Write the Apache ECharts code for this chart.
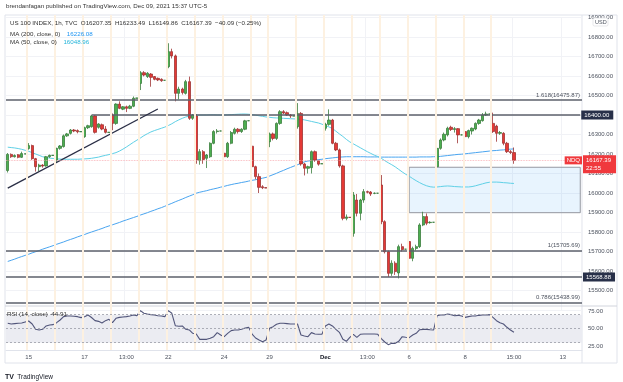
<!DOCTYPE html>
<html><head><meta charset="utf-8">
<script src="https://cdn.jsdelivr.net/npm/echarts@6/dist/echarts.min.js"></script>
<style>html,body{margin:0;padding:0;background:#fff;}#c{width:623px;height:382px;}</style>
</head><body><div id="c"></div>
<script>
// ---- OHLC (hourly bars, Nov 12 11:00 .. Dec 9 15:00) ----
const opens = [16115,16198,16186,16196,16183,16200,
16228,16243,16176,16135,16143,16139,16186,16193,
16169,16229,16238,16293,16306,16323,16320,16314,
16289,16335,16340,16395,16337,16350,16328,16311,
16400,16357,16456,16430,16442,16434,16445,16486,
16562,16617,16597,16610,16597,16588,16583,16578,
16648,16725,16703,16511,16533,16511,16571,16383,
16395,16166,16212,16178,16186,16255,16315,16318,
16204,16186,16255,16306,16327,16315,16327,16370,
16240,16135,16084,16032,16027,
16263,16303,16280,16357,16417,16412,16400,16395,
16340,16408,16149,16127,16130,16212,16165,16150,
16332,16352,16374,16255,16221,16139,15870,15875,
15793,15964,15896,15964,16007,16005,15998,15999,
16041,15853,15699,15588,15640,15590,15725,15712,
15751,15665,15716,15725,15836,15879,15848,15850,
16135,16229,16272,16298,16337,16326,16330,16298,
16315,16289,16318,16328,16357,16371,16400,16405,
16357,16343,16306,16306,16255,16212,16207.35];
const highs = [16205,16203,16198,16200,16212,16202,
16256,16248,16180,16150,16148,16190,16197,16195,
16232,16246,16300,16308,16328,16328,16326,16316,
16340,16350,16400,16400,16358,16356,16343,16313,
16408,16460,16470,16446,16448,16452,16495,16488,
16625,16625,16620,16615,16600,16592,16588,16579,
16768,16740,16710,16545,16540,16580,16597,16405,
16405,16225,16220,16200,16260,16322,16328,16319,
16215,16262,16318,16335,16333,16332,16375,16372,
16303,16140,16100,16040,16028,
16310,16310,16362,16425,16425,16418,16405,16396,
16461,16415,16155,16140,16218,16218,16170,16151,
16360,16429,16380,16262,16228,16145,15890,15876,
16005,15995,15970,16020,16012,16010,16003,16000,
16092,15860,15705,15655,15650,15735,15740,15713,
15760,15725,15735,15845,15904,15895,15855,15851,
16235,16280,16310,16340,16345,16338,16333,16300,
16322,16325,16336,16362,16380,16410,16417,16406,
16412,16350,16318,16312,16262,16220,16233.49];
const lows = [16105,16180,16182,16178,16180,16199,
16222,16170,16110,16112,16130,16135,16180,16191,
16160,16222,16233,16288,16300,16312,16306,16313,
16283,16328,16335,16305,16330,16322,16305,16310,
16322,16350,16430,16425,16415,16430,16440,16485,
16528,16598,16590,16545,16578,16574,16570,16577,
16640,16690,16470,16480,16505,16505,16375,16375,
16150,16145,16150,16128,16180,16250,16305,16317,
16150,16180,16250,16300,16305,16308,16322,16369,
16120,16070,16000,16020,16025,
16235,16270,16272,16350,16405,16395,16385,16394,
16330,16140,16090,16100,16100,16160,16140,16149,
16320,16345,16250,16215,16130,15860,15860,15874,
15776,15880,15860,15950,15998,15985,15994,15998,
15840,15690,15570,15575,15580,15562,15700,15711,
15614,15650,15705,15718,15830,15835,15843,15849,
16125,16222,16265,16290,16318,16310,16255,16296,
16255,16280,16300,16322,16350,16366,16395,16404,
16308,16263,16298,16245,16205,16200,16149.86];
const closes = [16198,16186,16192,16183,16202,16201,
16243,16176,16135,16143,16138,16186,16193,16193,
16229,16241,16293,16303,16323,16318,16314,16315,
16335,16345,16395,16311,16354,16328,16311,16311,
16357,16456,16434,16442,16434,16445,16486,16487,
16617,16605,16614,16593,16583,16580,16576,16578,
16725,16703,16511,16533,16515,16571,16383,16400,
16169,16212,16172,16195,16255,16315,16318,16318,
16186,16255,16310,16327,16315,16327,16370,16371,
16135,16084,16029,16027,16026,
16303,16280,16357,16417,16410,16400,16395,16395,
16408,16149,16127,16135,16212,16169,16148,16150,
16352,16374,16255,16221,16139,15870,15877,15875,
15990,15896,15964,16007,16004,15995,15999,15999,
15853,15699,15588,15640,15597,15725,15710,15712,
15665,15716,15725,15836,15879,15845,15850,15850,
16229,16272,16301,16332,16326,16330,16298,16298,
16289,16320,16332,16357,16374,16400,16405,16405,
16315,16306,16310,16255,16212,16207.48,16167.39];

// ---- Moving averages & RSI ----
const ma200 = [15649,15655,15661,15668,15674,15680,15686,15693,15699,15705,15712,15718,15724,15730,15737,15743,15749,15756,15762,15768,15775,15781,15787,15794,15800,15806,15812,15818,
15825,15831,15837,15843,15849,15856,15862,15868,15874,15880,
15887,15893,15899,15906,15912,15919,15925,15932,
15940,15947,15955,15962,15969,15977,15984,15991,15999,
16004,16008,16012,16017,16021,16025,16030,16034,16039,
16043,16047,16050,16054,16057,16061,16065,16068,16072,16076,
16080,16087,16094,16101,16109,16116,
16124,16131,16138,16145,16152,16160,
16164,16166,16169,16171,16173,16176,16178,16180,16182,16184,
16185,16186,16186,16186,16186,16186,16186,16185,16185,16185,16185,16184,16184,16184,16184,16184,16184,16184,16184,16184,16184,16184,16185,16185,16185,16185,16186,
16186,16188,16190,16192,16194,16196,16198,16199,16201,16203,16205,16207,16209,16211,16213,16215,16217,16218,16220,16221,16223,16225,16226.08];
const ma50 = [16235,16233,16231,16228,16224,16219,16214,16207,16200,16193,
16186,16182,16179,16177,16175,16174,16173,16173,16173,16173,
16173,16174,16175,16176,16178,16181,16184,16189,16193,16197,
16202,16207,16215,16225,16236,16248,16260,16271,16282,16294,
16304,16313,16320,16326,16332,16338,16346,16355,16366,16375,
16383,16390,16394,16397,16399,16400,16400,16400,16401,16401,
16400,16400,16400,16401,16402,16403,16404,16405,16405,16404,
16402,16399,16396,16393,16390,16388,16386,16385,16384,16383,
16382,16381,16380,16379,16378,16375,16371,16367,16363,16359,
16353,16346,16339,16331,16317,16303,16290,16275,16262,16252,
16242,16232,16222,16212,16203,16194,16187,16178,16166,16155,
16145,16134,16121,16108,16096,16086,16074,16063,16053,16044,
16037,16032,16030,16031,16033,16035,16036,16035,16033,16032,
16031,16031,16031,16033,16037,16042,16047,16052,16055,16056,
16056,16055,16053,16052,16050,16048.96];
const rsi14 = [57.7,56.7,57.2,57.7,58.2,59.6,61,56.7,49.1,48.2,
49.1,53.9,55.3,55.8,58.6,62.4,67.2,68.2,68.2,67.7,
67.2,65.8,67.2,69.6,66,61.5,60.5,58.2,61.5,63.4,
58.6,64.8,66.2,66.7,67.2,68.2,69.6,68.6,75.8,72,
71,70.1,69.6,68.6,68.2,67.2,75.8,72,54.3,53.4,
53.9,49.1,48.2,43.4,42.4,34.8,34.8,34.8,36.3,38.6,
44.4,41,38.6,43.4,47.2,48.2,48.2,49.1,51,52,
42.4,36.7,33.9,31.5,33.9,50.5,52.9,56.3,57.7,57.7,
57.2,56.7,56.7,56.7,41,39.6,38.6,44.4,42.4,42,
42,53.9,56.7,53.9,49.1,44.8,34.8,32,37.7,42,
37.7,42,42.4,42.4,42.4,42.4,42,35.8,31,27.2,
29.1,29.1,32,38.6,37.7,37.2,41,43.4,48.6,49.1,
49.1,48.6,48.2,68.6,69.6,69.6,71,70.1,68.6,69.1,
68.2,66.2,67.2,68.2,68.2,69.1,69.6,69.6,70.1,66.2,
61.5,58.6,56.7,52,48.2,44.91];

// ---- time axis ----
const SLOTS = 165;                       // bars + empty future space
const tickIdx  = [6, 22, 34, 46, 62, 75, 91, 103, 115, 131, 145, 159];
const tickText = ['15','17','13:00','22','24','29','Dec','13:00','6','8','15:00','13'];
const dayStarts = [6,14,22,30,38,46,54,62,70,75,83,91,99,107,115,123,131,139];

// ---- drawn levels ----
const fibLevels = [16475.87, 15705.69, 15438.99];
const fibNames  = ['1.618', '1', '0.786'];
const hLevels   = [16400, 15568.88];
const trendLine = [[0, 16025], [43, 16431]];
const gapBox    = [[115, 16132], [164, 15899]];

const categories = Array.from({length: SLOTS}, (_, i) => String(i));
const tickMap = {}; tickIdx.forEach((k, j) => tickMap[k] = tickText[j]);
const last = closes.length - 1;
const chg = closes[last] - closes[last - 1];
const pct = chg / closes[last - 1] * 100;
const fmt = v => v.toFixed(2);
const neg = s => s.replace('-', '\u2212');

const FONT = 'Liberation Sans, Arial, sans-serif';
const GL = 6, GR = 41;
const chart = echarts.init(document.getElementById('c'));

const option = {
  animation: false,
  backgroundColor: '#ffffff',
  textStyle: { fontFamily: FONT },
  grid: [
    { left: GL, right: GR, top: 17.5, height: 292.5 },
    { left: GL, right: GR, top: 293.7, height: 70 },
    { left: GL, right: GR, top: 15, height: 335 }
  ],
  xAxis: [
    { type: 'category', gridIndex: 0, data: categories, boundaryGap: true,
      axisLine: { show: false }, axisTick: { show: false }, axisLabel: { show: false },
      splitLine: { show: true, interval: (i) => tickMap[i] !== undefined, lineStyle: { color: '#f1f2f6', width: 1 } } },
    { type: 'category', gridIndex: 1, data: categories, boundaryGap: true, offset: -13.7,
      axisLine: { show: true, lineStyle: { color: '#e0e3eb' } }, axisTick: { show: false },
      axisLabel: { interval: (i) => tickMap[i] !== undefined, margin: 4, fontSize: 6, color: '#4c525e', fontFamily: FONT,
        formatter: (v, i) => tickMap[i] === 'Dec' ? '{b|Dec}' : (tickMap[i] || ''),
        rich: { b: { fontWeight: 'bold', fontSize: 6, color: '#131722', fontFamily: FONT } } },
      splitLine: { show: false } },
    { type: 'value', gridIndex: 2, min: -0.5, max: SLOTS - 0.5, show: false }
  ],
  yAxis: [
    { type: 'value', gridIndex: 0, position: 'right', min: 15400, max: 16900, interval: 100,
      axisLine: { show: false }, axisTick: { show: false },
      axisLabel: { showMinLabel: false, margin: 6, fontSize: 6, color: '#4c525e', fontFamily: FONT, formatter: fmt },
      splitLine: { lineStyle: { color: '#f1f2f6' } } },
    { type: 'value', gridIndex: 1, position: 'right', min: 0, max: 100, interval: 25,
      axisLine: { show: false }, axisTick: { show: false },
      axisLabel: { showMinLabel: false, showMaxLabel: false, margin: 6, fontSize: 6, color: '#4c525e', fontFamily: FONT, formatter: fmt },
      splitLine: { show: false } },
    { type: 'value', gridIndex: 2, min: 0, max: 1, show: false }
  ],
  series: [
    { type: 'line', xAxisIndex: 2, yAxisIndex: 2, z: 0, data: [[-0.5, 0]], showSymbol: false, silent: true,
      lineStyle: { opacity: 0 },
      markLine: { silent: true, symbol: 'none', label: { show: false },
        lineStyle: { color: '#fdf1e1', width: 2, type: 'solid' },
        data: dayStarts.map(d => ({ xAxis: d - 0.5 })) } },
    { type: 'candlestick', xAxisIndex: 0, yAxisIndex: 0, z: 3, barWidth: 2.8,
      data: opens.map((o, i) => [o, closes[i], lows[i], highs[i]]),
      itemStyle: { color: '#4caf50', borderColor: '#3b7d3e', color0: '#e53935', borderColor0: '#9e3434', borderWidth: 0.8 },
      markArea: { silent: true, z: 1,
        itemStyle: { color: 'rgba(33,150,243,0.10)', borderColor: '#9598a1', borderWidth: 1 },
        data: [[{ coord: gapBox[0] }, { coord: gapBox[1] }]] },
      markLine: { silent: true, symbol: 'none', z: 4,
        data: [
          ...fibLevels.map((v, k) => ({ yAxis: v,
            lineStyle: { color: '#5d606b', width: 1.6, type: 'solid' },
            label: { show: true, position: 'insideEndTop', distance: 2, formatter: fibNames[k] + '(' + fmt(v) + ')',
              fontSize: 6, color: '#4c525e', fontFamily: FONT } })),
          [ { coord: [24, hLevels[0]], lineStyle: { color: '#5d606b', width: 1.6, type: 'solid' },
              label: { show: true, position: 'end', distance: 1, formatter: fmt(hLevels[0]), fontSize: 6, color: '#fff',
                backgroundColor: '#283049', padding: [1.5, 4, 1.5, 3], fontFamily: FONT } },
            { coord: [SLOTS - 1, hLevels[0]] } ],
          { yAxis: hLevels[1], lineStyle: { color: '#5d606b', width: 1.6, type: 'solid' },
            label: { show: true, position: 'end', distance: 1, formatter: fmt(hLevels[1]), fontSize: 6, color: '#fff',
              backgroundColor: '#283049', padding: [1.5, 4, 1.5, 3], fontFamily: FONT } },
          [ { coord: trendLine[0], lineStyle: { color: '#2a2e45', width: 1.3, type: 'solid' }, label: { show: false } },
            { coord: trendLine[1] } ],
          { yAxis: closes[last], lineStyle: { color: '#f7a8ae', width: 0.8, type: 'dotted' },
            label: { show: true, position: 'end', distance: 1, formatter: fmt(closes[last]) + '\n22:55', fontSize: 6, lineHeight: 8,
              color: '#fff', backgroundColor: '#f0393d', padding: [1, 5, 1, 3], offset: [0, 4], fontFamily: FONT } },
          { yAxis: closes[last], lineStyle: { color: 'rgba(0,0,0,0)', width: 0 },
            label: { show: true, position: 'insideEndTop', distance: 0, verticalAlign: 'middle', offset: [0, 0], formatter: 'NDQ', fontSize: 6, color: '#fff',
              backgroundColor: '#f0393d', padding: [1, 2], fontFamily: FONT } }
        ] } },
    { type: 'line', name: 'MA200', xAxisIndex: 0, yAxisIndex: 0, z: 2, data: ma200, showSymbol: false, silent: true,
      lineStyle: { color: '#4aa5f0', width: 1 } },
    { type: 'line', name: 'MA50', xAxisIndex: 0, yAxisIndex: 0, z: 2, data: ma50, showSymbol: false, silent: true,
      lineStyle: { color: '#5fd0e6', width: 1 } },
    { type: 'line', name: 'RSI', xAxisIndex: 1, yAxisIndex: 1, z: 3, data: rsi14, showSymbol: false, silent: true,
      lineStyle: { color: '#51557a', width: 1.1 },
      markArea: { silent: true, itemStyle: { color: '#ebecf2' }, data: [[{ yAxis: 30 }, { yAxis: 70 }]] },
      markLine: { silent: true, symbol: 'none', label: { show: false },
        lineStyle: { color: '#9a9ca6', width: 0.8, type: [2, 2] },
        data: [{ yAxis: 70 }, { yAxis: 50 }, { yAxis: 30 }] } }
  ],
  graphic: [
    { type: 'rect', z: 0, shape: { x: 5, y: 15, width: 612, height: 348 }, style: { fill: 'none', stroke: '#e0e3eb', lineWidth: 1 } },
    { type: 'line', z: 0, shape: { x1: 582, y1: 15, x2: 582, y2: 363 }, style: { stroke: '#e0e3eb', lineWidth: 1 } },
    { type: 'line', z: 5, shape: { x1: 5, y1: 306, x2: 617, y2: 306 }, style: { stroke: '#d1d4dc', lineWidth: 1 } },
    { type: 'text', left: 6, top: 3, style: { text: 'brendanfagan published on TradingView.com, Dec 09, 2021 15:37 UTC-5', fontSize: 6.2, fill: '#333', fontFamily: FONT } },
    { type: 'text', left: 10, top: 20.5, z: 10, style: {
        text: 'US 100 INDEX, 1h, TVC  O' + fmt(opens[last]) + '  H' + fmt(highs[last]) + '  L' + fmt(lows[last]) + '  C' + fmt(closes[last]) + '  ' + neg(fmt(chg)) + ' (' + neg(pct.toFixed(2)) + '%)',
        fontSize: 6.2, fill: '#333', fontFamily: FONT } },
    { type: 'text', left: 10, top: 28, z: 10, style: {
        text: '{a|MA (200, close, 0)}  {b|' + fmt(ma200[last]) + '}', fontFamily: FONT,
        rich: { a: { fontSize: 6.2, fill: '#333', fontFamily: FONT }, b: { fontSize: 6.2, fill: '#2196f3', fontFamily: FONT } } } },
    { type: 'text', left: 10, top: 36.5, z: 10, style: {
        text: '{a|MA (50, close, 0)}  {b|' + fmt(ma50[last]) + '}', fontFamily: FONT,
        rich: { a: { fontSize: 6.2, fill: '#333', fontFamily: FONT }, b: { fontSize: 6.2, fill: '#26b5da', fontFamily: FONT } } } },
    { type: 'text', left: 7, top: 311.5, z: 10, style: {
        text: 'RSI (14, close)  ' + rsi14[last].toFixed(2), fontSize: 6.2, fill: '#333', fontFamily: FONT } },
    { type: 'rect', z: 10, shape: { x: 593, y: 18, width: 15, height: 8, r: 1.5 }, style: { fill: '#fff', stroke: '#d6d8de', lineWidth: 0.6 } },
    { type: 'text', z: 11, left: 595, top: 19.5, style: { text: 'USD', fontSize: 5.5, fill: '#4c525e', fontFamily: FONT } },
    { type: 'text', left: 5, top: 371, z: 10, style: {
        text: '{l|TV} {t|TradingView}', fontFamily: FONT,
        rich: { l: { fontSize: 7, fontWeight: 'bold', fill: '#131722', fontFamily: FONT }, t: { fontSize: 6.5, fill: '#131722', fontFamily: FONT } } } }
  ]
};
chart.setOption(option);
</script>
</body></html>
